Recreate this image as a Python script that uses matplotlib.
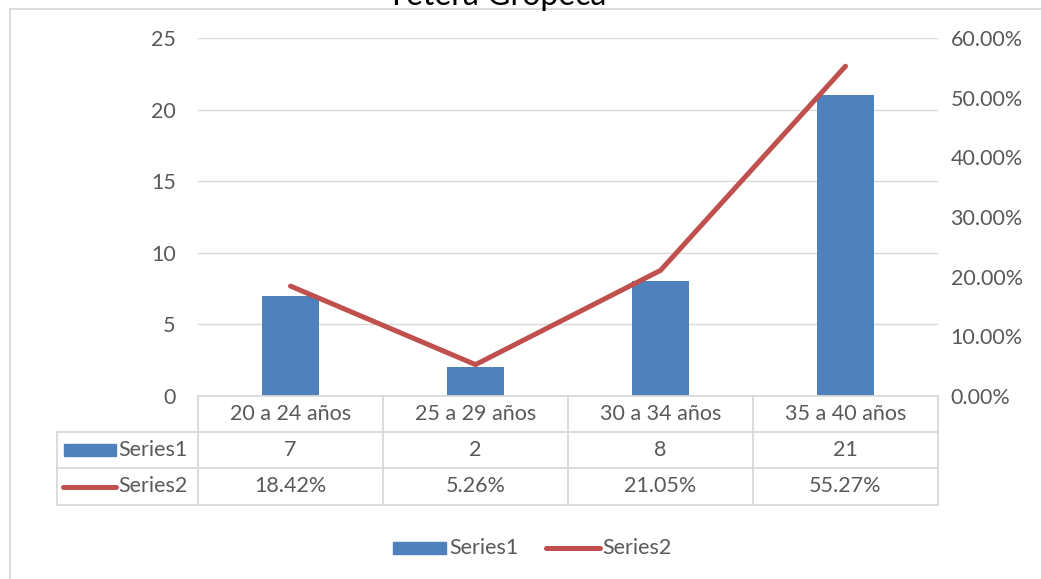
import matplotlib.pyplot as plt
from matplotlib.lines import Line2D
from matplotlib.patches import Rectangle
from matplotlib.ticker import FuncFormatter

plt.rcParams['font.family'] = ['Lato', 'DejaVu Sans']

# Data
categories = ["20 a 24 años", "25 a 29 años", "30 a 34 años", "35 a 40 años"]
series1 = [7, 2, 8, 21]
series2 = [0.1842, 0.0526, 0.2105, 0.5527]
series1_labels = ["7", "2", "8", "21"]
series2_labels = ["18.42%", "5.26%", "21.05%", "55.27%"]
title = "Tetera Gropeca"

BAR_COLOR = "#4F81BD"
LINE_COLOR = "#C0504D"
GRID_COLOR = "#D9D9D9"
TEXT_COLOR = "#595959"
FS = 15.5

W, H = 1041, 579
fig = plt.figure(figsize=(W / 100, H / 100), dpi=100)
fig.patch.set_facecolor('white')


def fx(px):
    return px / W


def fy(py):
    return 1 - py / H


# plot area
x0, x1, y_top, y_bot = 198, 938, 38, 396
ax = fig.add_axes([fx(x0), fy(y_bot), fx(x1) - fx(x0), fy(y_top) - fy(y_bot)])
ax2 = ax.twinx()

n = len(categories)
xs = list(range(n))
ax.bar(xs, series1, width=0.31, color=BAR_COLOR, zorder=3)
ax.set_xlim(-0.5, n - 0.5)
ax.set_ylim(0, 25)
ax.set_yticks(range(0, 26, 5))
ax.grid(True, axis='y', color=GRID_COLOR, linewidth=1, zorder=0)
ax.set_axisbelow(True)
ax.set_xticks([])
for s in ax.spines.values():
    s.set_visible(False)
ax.tick_params(axis='y', length=0, pad=16, labelsize=FS, labelcolor=TEXT_COLOR)

ax2.plot(xs, series2, color=LINE_COLOR, linewidth=3.6, solid_capstyle='round', zorder=4)
ax2.set_ylim(0, 0.6)
ax2.set_yticks([i / 10 for i in range(7)])
ax2.yaxis.set_major_formatter(FuncFormatter(lambda v, p: f"{v * 100:.2f}%"))
for s in ax2.spines.values():
    s.set_visible(False)
ax2.tick_params(axis='y', length=0, pad=9, labelsize=FS, labelcolor=TEXT_COLOR)

# data table drawn below the plot
row_y = [396, 432, 468, 505]
col_x = [x0 + (x1 - x0) * i / n for i in range(n + 1)]
left_x = 57


def hline(xa, xb, y):
    fig.add_artist(Line2D([fx(xa), fx(xb)], [fy(y), fy(y)], color=GRID_COLOR, linewidth=1.3))


def vline(x, ya, yb):
    fig.add_artist(Line2D([fx(x), fx(x)], [fy(ya), fy(yb)], color=GRID_COLOR, linewidth=1.3))


hline(x0, x1, row_y[0])
for y in row_y[1:]:
    hline(left_x, x1, y)
for x in col_x:
    vline(x, row_y[0], row_y[-1])
vline(left_x, row_y[1], row_y[-1])

rows = [categories, series1_labels, series2_labels]
for r, labels in enumerate(rows):
    yc = (row_y[r] + row_y[r + 1]) / 2
    for i, lab in enumerate(labels):
        xc = (col_x[i] + col_x[i + 1]) / 2
        fig.text(fx(xc), fy(yc), lab, ha='center', va='center', fontsize=FS, color=TEXT_COLOR)

# row headers with keys
yc1 = (row_y[1] + row_y[2]) / 2
fig.add_artist(Rectangle((fx(64), fy(yc1 + 6)), fx(116) - fx(64), fy(yc1 - 6) - fy(yc1 + 6),
                         color=BAR_COLOR, transform=fig.transFigure))
fig.text(fx(118), fy(yc1), "Series1", ha='left', va='center', fontsize=FS, color=TEXT_COLOR)
yc2 = (row_y[2] + row_y[3]) / 2
fig.add_artist(Line2D([fx(63), fx(116)], [fy(yc2), fy(yc2)], color=LINE_COLOR, linewidth=3.6,
                      solid_capstyle='round'))
fig.text(fx(118), fy(yc2), "Series2", ha='left', va='center', fontsize=FS, color=TEXT_COLOR)

# legend
ly = 548
fig.add_artist(Rectangle((fx(393), fy(ly + 6)), fx(446) - fx(393), fy(ly - 6) - fy(ly + 6),
                         color=BAR_COLOR, transform=fig.transFigure))
fig.text(fx(449), fy(ly), "Series1", ha='left', va='center', fontsize=FS, color=TEXT_COLOR)
fig.add_artist(Line2D([fx(546), fx(600)], [fy(ly), fy(ly)], color=LINE_COLOR, linewidth=3.6,
                      solid_capstyle='round'))
fig.text(fx(602), fy(ly), "Series2", ha='left', va='center', fontsize=FS, color=TEXT_COLOR)

# chart frame (cut at top/right/bottom)
fig.add_artist(Line2D([fx(10), 1], [fy(9), fy(9)], color=GRID_COLOR, linewidth=1.3))
fig.add_artist(Line2D([fx(10), fx(10)], [fy(9), 0], color=GRID_COLOR, linewidth=1.3))

# title, mostly cut off at the top edge as in the reference
fig.text(fx(497), fy(5), title, ha='center', va='baseline', fontsize=23, color='black')

fig.savefig('out.png', dpi=100, facecolor='white')
